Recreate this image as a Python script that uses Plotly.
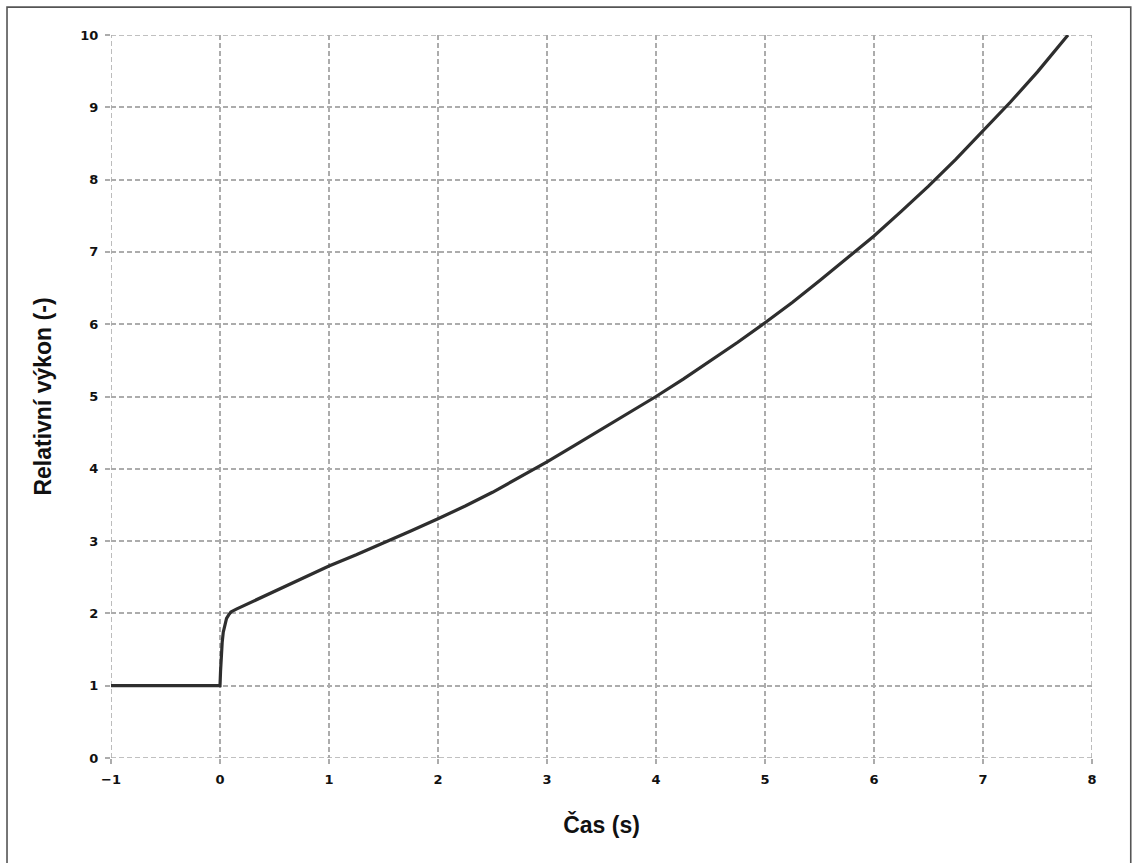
import plotly.graph_objects as go

# Relative reactor power after a step reactivity insertion at t = 0
time_s = [-1.0, 0.0, 0.005, 0.01, 0.02, 0.03, 0.045, 0.06, 0.08, 0.1, 0.15,
          0.2, 0.3, 0.5, 0.734, 1.0, 1.25, 1.5, 1.75, 2.0, 2.25, 2.5, 2.75,
          3.0, 3.25, 3.5, 3.75, 4.0, 4.25, 4.5, 4.75, 5.0, 5.25, 5.5, 5.75,
          6.0, 6.25, 6.5, 6.75, 7.0, 7.25, 7.5, 7.78]
rel_power = [1.0, 1.0, 1.2, 1.38, 1.6, 1.74, 1.86, 1.93, 1.98, 2.02, 2.06,
             2.095, 2.165, 2.31, 2.47, 2.655, 2.81, 2.97, 3.14, 3.31, 3.485, 3.675, 3.88,
             4.095, 4.32, 4.545, 4.775, 5.0, 5.24, 5.49, 5.75, 6.02, 6.30, 6.60, 6.91,
             7.22, 7.56, 7.91, 8.28, 8.67, 9.07, 9.49, 10.0]

x_ticks = [-1, 0, 1, 2, 3, 4, 5, 6, 7, 8]
y_ticks = [0, 1, 2, 3, 4, 5, 6, 7, 8, 9, 10]
x_range = [-1, 8]
y_range = [0, 10]

GRID_COLOR = "#acacac"
GRID_DASH = "5px,3px"

fig = go.Figure()
fig.add_trace(go.Scatter(
    x=time_s, y=rel_power, mode="lines",
    line=dict(color="#2e2e2e", width=3.2),
    showlegend=False, hoverinfo="skip",
))

grid = dict(showgrid=True, gridcolor=GRID_COLOR, gridwidth=1.6, griddash=GRID_DASH,
            zeroline=False, showline=False, ticks="outside", ticklen=5,
            tickcolor=GRID_COLOR, tickwidth=1.6, ticklabelstandoff=4,
            tickfont=dict(family="DejaVu Sans", size=13, color="#111", weight="bold"))

title_font = dict(family="Liberation Sans", size=23, color="#111", weight="bold")

fig.update_xaxes(range=x_range, tickvals=x_ticks, tickmode="array",
                 title=dict(text="Čas (s)", standoff=31, font=title_font),
                 **grid)
fig.update_yaxes(range=y_range, tickvals=y_ticks, tickmode="array",
                 title=dict(text="Relativní výkon (-)", standoff=22, font=title_font),
                 **grid)

# Dashed frame on the plot edges (plotly drops gridlines lying on the edges)
edge = dict(color=GRID_COLOR, width=1.6, dash=GRID_DASH)
for xv in x_range:
    fig.add_shape(type="line", x0=xv, x1=xv, y0=y_range[0], y1=y_range[1],
                  line=edge, layer="below")
for yv in y_range:
    fig.add_shape(type="line", x0=x_range[0], x1=x_range[1], y0=yv, y1=yv,
                  line=edge, layer="below")

# Outer frame around the whole chart
fig.add_shape(type="rect", xref="paper", yref="paper",
              x0=-0.106, x1=1.0395, y0=-0.2, y1=1.0385,
              line=dict(color="#555", width=1.6), layer="below")

fig.update_layout(
    width=1133, height=863,
    margin=dict(l=111, r=41, t=35, b=105),
    plot_bgcolor="white", paper_bgcolor="white",
)

fig.write_html("out.html")
